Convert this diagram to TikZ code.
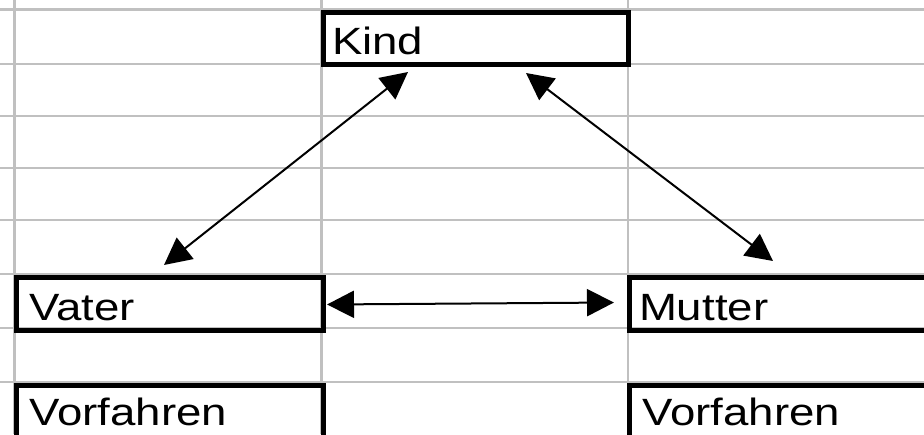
\documentclass[tikz,border=0pt]{standalone}
\usepackage{fontspec}
\newfontfamily\cellfont[FakeStretch=1.2]{Liberation Sans}
\usetikzlibrary{arrows.meta}
\definecolor{gridgray}{HTML}{C0C0C0}
\begin{document}
\begin{tikzpicture}[x=1pt,y=-1pt,
  gridline/.style={draw=gridgray, line width=2.5pt},
  cellbox/.style={draw=black, line width=5pt, anchor=north west, inner ysep=0pt,
    align=left, font=\cellfont\fontsize{38}{42}\selectfont,
    text height=43.5pt, text depth=9.25pt},
  link/.style={line width=2pt, {Triangle[length=27pt,width=27pt]}-{Triangle[length=27pt,width=27pt]}}]
\useasboundingbox (0,0) rectangle (924,434);
\clip (0,0) rectangle (924,434);
% spreadsheet grid
\foreach \y in {9.5,64,116,168,220,274,328,382}
  \draw[gridline] (0,\y) -- (924,\y);
\foreach \x in {14.5,321.5,628}
  \draw[gridline] (\x,0) -- (\x,434);
% cells
\node[cellbox, inner xsep=9pt, text width=287.5pt, text height=42.5pt, text depth=10pt] (kind) at (320.5,9.5) {Kind};
\node[cellbox, inner xsep=13pt, text width=280.5pt, text height=43pt, text depth=10pt] (vater) at (14,274.5) {Vater};
\node[cellbox, inner xsep=9.5pt, text width=381pt, text height=43pt, text depth=10pt] (mutter) at (627,274.5) {Mutter};
\node[cellbox, inner xsep=13pt, text width=280.5pt, text height=40pt, text depth=40pt] (vorfL) at (14,382.5) {Vorfahren};
\node[cellbox, inner xsep=13pt, text width=374pt, text height=40pt, text depth=40pt] (vorfR) at (627,382.5) {Vorfahren};
% connector ends
\coordinate (kindA) at (408,72);
\coordinate (vaterA) at (164,265);
\coordinate (kindB) at (526,73);
\coordinate (mutterA) at (773,261);
\coordinate (vaterB) at (327,304.5);
\coordinate (mutterB) at (614,302.5);
\draw[link] (kindA) -- (vaterA);
\draw[link] (kindB) -- (mutterA);
\draw[link] (vaterB) -- (mutterB);
\end{tikzpicture}
\end{document}
